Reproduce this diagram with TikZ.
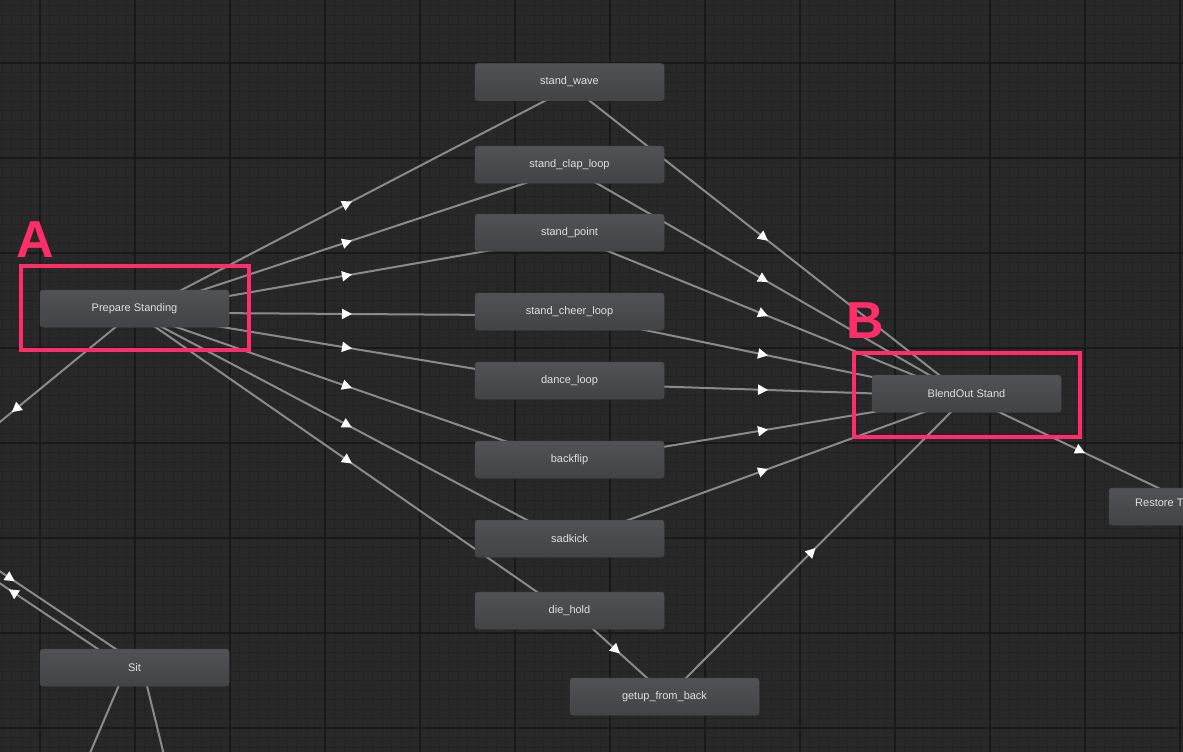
\documentclass[tikz,border=0pt]{standalone}
\usepackage{fontspec}
\setmainfont{Liberation Sans}
\usetikzlibrary{decorations.markings,arrows.meta,calc}
\definecolor{bg}{HTML}{282828}
\definecolor{minor}{HTML}{232323}
\definecolor{major}{HTML}{191919}
\definecolor{nodetop}{HTML}{515255}
\definecolor{nodebot}{HTML}{424345}
\definecolor{edge}{HTML}{8A8A8A}
\definecolor{pink}{HTML}{FF2D6A}
\pgfdeclarelayer{grid}\pgfdeclarelayer{edges}
\pgfsetlayers{grid,edges,main}
\tikzset{
 st/.style={rectangle,rounded corners=3pt,minimum width=189pt,minimum height=37pt,
   top color=nodetop,bottom color=nodebot,draw=black!70,line width=0.5pt,
   text=white!88!black,font=\fontsize{11}{12}\selectfont,inner sep=0pt},
 tr/.style={draw=edge,line width=2pt,postaction={decorate},
   decoration={markings,mark=at position 0.5 with {\arrow[white]{Triangle[length=10pt,width=10pt]}}}},
 plain/.style={draw=edge,line width=2pt},
 hl/.style={draw=pink,line width=4pt},
 big/.style={text=pink,font=\fontsize{52}{52}\selectfont\bfseries}
}
\begin{document}
\begin{tikzpicture}[x=1pt,y=-1pt]
\useasboundingbox (0,0) rectangle (1183,752);
\clip (0,0) rectangle (1183,752);
\begin{pgfonlayer}{grid}
\fill[bg] (0,0) rectangle (1183,752);
\foreach \i in {-10,...,130}{\draw[minor,line width=1pt] ({40+9.5*\i},0) -- ({40+9.5*\i},752);}
\foreach \i in {-10,...,85}{\draw[minor,line width=1pt] (0,{63+9.5*\i}) -- (1183,{63+9.5*\i});}
\foreach \i in {-1,...,12}{\draw[major,line width=1.5pt] ({40+95*\i},0) -- ({40+95*\i},752);}
\foreach \i in {-1,...,8}{\draw[major,line width=1.5pt] (0,{63+95*\i}) -- (1183,{63+95*\i});}
\end{pgfonlayer}

\node[st] (prep) at (134.5,308.5) {Prepare Standing};
\node[st] (wave) at (569.5,82) {stand\_wave};
\node[st] (clap) at (569.5,164.5) {stand\_clap\_loop};
\node[st] (point) at (569.5,232.5) {stand\_point};
\node[st] (cheer) at (569.5,311.5) {stand\_cheer\_loop};
\node[st] (dance) at (569.5,380.5) {dance\_loop};
\node[st] (flip) at (569.5,459.5) {backflip};
\node[st] (sad) at (569.5,538.5) {sadkick};
\node[st] (die) at (569.5,610.5) {die\_hold};
\node[st] (getup) at (664.5,696.5) {getup\_from\_back};
\node[st] (blend) at (966.5,393.5) {BlendOut Stand};
\node[st] (sit) at (134.5,667.5) {Sit};
\node[st] (restore) at (1203.5,506.5) {};
\node[text=white!88!black,font=\fontsize{11}{12}\selectfont,anchor=west,inner sep=0pt] (restoretxt) at (1135,503) {Restore T};
\coordinate (offA) at (-111,513);
\coordinate (offB) at (-111,503);
\coordinate (offC) at (70,800);
\coordinate (offD) at (175,800);

\begin{pgfonlayer}{edges}
\draw[tr] ($(prep)+(0,6)$) -- ($(wave)+(0,6)$);
\foreach \n in {clap,point,cheer,dance,flip,sad,die}{\draw[tr] ($(prep)+(0,4)$) -- ($(\n)+(0,4)$);}
\foreach \n in {wave,clap,point,cheer,dance,flip,sad,getup}{\draw[tr] ($(\n)+(0,3)$) -- ($(blend)+(0,3)$);}
\draw[tr] ($(die)+(3,0)$) -- ($(getup)+(3,0)$);
\draw[tr] ($(blend)+(0,3)$) -- ($(restore)+(0,3)$);
\draw[tr] ($(prep)+(0,3)$) -- (offA);
\draw[tr] ($(sit)+(-3,4)$) -- ($(offB)+(-3,4)$);
\draw[tr] ($(offB)+(3,-4)$) -- ($(sit)+(3,-4)$);
\draw[plain] ($(sit)+(-8,0)$) -- (offC);
\draw[plain] ($(sit)+(8,0)$) -- (offD);
\end{pgfonlayer}

\node[hl,minimum width=228pt,minimum height=84pt,inner sep=0pt] (boxA) at (134.5,307.5) {};
\node[hl,minimum width=226pt,minimum height=84pt,inner sep=0pt] (boxB) at (966.5,394.5) {};
\node[big] (labA) at (35,240) {A};
\node[big] (labB) at (865,321) {B};
\end{tikzpicture}
\end{document}
